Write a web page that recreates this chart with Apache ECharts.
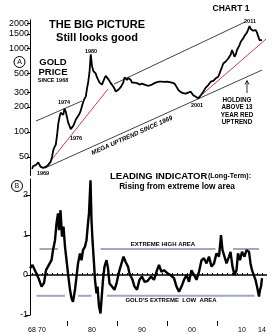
<!DOCTYPE html>
<html>
<head>
<meta charset="utf-8">
<script src="https://cdn.jsdelivr.net/npm/echarts@6/dist/echarts.min.js"></script>
<style>
html, body { margin: 0; padding: 0; background: #fff; }
#chart { width: 278px; height: 334px; }
</style>
</head>
<body>
<div id="chart"></div>
<script>
const FONT = '"Liberation Sans", Arial, sans-serif';

// gold price, quarterly from 1968
const priceStartYear = 1968;
const goldPrices = [
    36, 39, 40, 40,
    42, 43, 41, 38,
    36, 37, 37, 38,
    39, 40, 42, 44,
    50, 60, 66, 70,
    90, 125, 150, 170,
    172, 160, 190, 175,
    150, 128, 118, 108,
    105, 118, 128, 140,
    148, 155, 165, 180,
    205, 230, 250, 265,
    330, 400, 520, 850,
    620, 540, 560, 500,
    450, 420, 390, 400,
    370, 390, 440, 470,
    480, 430, 410, 385,
    370, 350, 330, 305,
    300, 320, 335, 345,
    350, 390, 450, 440,
    420, 445, 455, 420,
    390, 370, 390, 400,
    385, 375, 370, 365,
    380, 360, 370, 360,
    360, 355, 360, 365,
    370, 380, 385, 390,
    395, 400, 400, 398,
    400, 402, 398, 400,
    400, 398, 395, 392,
    390, 385, 380, 360,
    340, 320, 318, 300,
    295, 292, 290, 288,
    292, 296, 300, 304,
    290, 275, 268, 264,
    258, 253, 262, 275,
    290, 304, 320, 340,
    355, 365, 385, 400,
    415, 410, 430, 440,
    450, 459, 500, 552,
    600, 663, 640, 700,
    730, 760, 797, 850,
    959, 880, 797, 850,
    960, 1004, 1100, 1208,
    1250, 1330, 1420, 1480,
    1560, 1700, 1860, 1720,
    1670, 1640, 1700, 1667,
    1550, 1400, 1265, 1250,
    1265,
];
const priceTicks = [50, 100, 200, 300, 500, 1000, 1500, 2000];

// trend lines [year, price]
const trend1974 = [[1968.8, 135], [1978.0, 235]];
const redUptrend1969 = [[1970.6, 36.9], [1983.2, 327]];
const megaUptrend = [[1970.6, 36.9], [2014.0, 552]];
const upperChannel = [[1984.4, 375], [2010.6, 2079]];
const redUptrend2001 = [[2001.2, 255], [2014.8, 1300]];

// leading indicator
const indicatorYears = [
    1967.6, 1968.1, 1968.6, 1969.3, 1969.9, 1970.4, 1970.8, 1971.2, 1971.9, 1972.2,
    1972.6, 1972.9, 1973.2, 1973.4, 1973.7, 1974.0, 1974.3, 1974.6, 1974.9, 1975.2,
    1975.6, 1975.9, 1976.2, 1976.6, 1976.9, 1977.2, 1977.6, 1977.9, 1978.2, 1978.6,
    1978.9, 1979.2, 1979.4, 1979.7, 1979.9, 1980.1, 1980.4, 1980.6, 1980.9, 1981.1,
    1981.4, 1981.7, 1981.9, 1982.2, 1982.5, 1982.9, 1983.2, 1983.5, 1984.0, 1984.5,
    1984.9, 1985.2, 1985.5, 1985.9, 1986.3, 1986.7, 1987.2, 1987.5, 1988.1, 1988.5,
    1989.0, 1989.5, 1990.0, 1990.5, 1991.1, 1991.8, 1992.4, 1993.0, 1993.4, 1993.9,
    1994.4, 1995.1, 1995.7, 1996.4, 1996.9, 1997.4, 1997.9, 1998.4, 1998.9, 1999.4,
    1999.9, 2000.4, 2000.9, 2001.4, 2001.9, 2002.4, 2002.9, 2003.4, 2003.9, 2004.4,
    2004.9, 2005.4, 2005.8, 2006.1, 2006.5, 2006.9, 2007.4, 2007.7, 2008.1, 2008.5,
    2008.9, 2009.2, 2009.6, 2010.0, 2010.5, 2010.9, 2011.4, 2011.7, 2012.0, 2012.4,
    2012.7, 2013.0, 2013.4, 2013.6, 2013.8, 2014.0,
];
const indicatorValues = [
    0.17, 0.25, 0.11, -0.08, -0.29, -0.2, 0.12, 0.17, 0.37, 0.62,
    0.87, 1.29, 1.54, 1.12, 1.62, 0.96, 1.21, 0.71, 0.37, 0.04,
    -0.37, -0.58, -0.67, -0.37, -0.04, 0.29, 0.54, 0.37, 0.62, 0.71,
    0.87, 1.29, 1.54, 2.37, 1.37, 0.87, 0.29, -0.12, -0.46, -0.29,
    -0.79, -0.96, -0.62, -0.12, 0.21, 0.37, 0.17, -0.21, -0.29, -0.37,
    -0.21, -0.04, 0.12, 0.29, 0.46, 0.33, 0.21, 0.04, -0.12, -0.29,
    -0.37, -0.12, -0.04, -0.17, -0.15, -0.04, -0.12, 0.12, 0.25, 0.08,
    0.12, 0.04, 0.0, -0.08, -0.29, -0.42, -0.29, -0.12, 0.0, -0.17,
    0.12, 0.0, -0.12, 0.08, 0.37, 0.42, 0.29, 0.46, 0.21, 0.29,
    0.54, 0.46, 1.0, 0.62, 0.46, 0.29, 0.46, 0.58, 0.21, 0.0,
    0.12, 0.54, 0.37, 0.58, 0.46, 0.62, 0.58, 0.29, 0.12, 0.08,
    -0.12, -0.29, -0.54, -0.37, -0.29, -0.08,
];
const indicatorTicks = [-1, 0, 1, 2];

const highBand = 0.65;
const highSegments = [[1969.5, 1973.2], [1981.7, 2004.7], [2008.2, 2013.4]];
const lowBand = -0.52;
const lowSegments = [[1968.9, 1974.6], [1977.2, 1979.9], [1983.0, 2012.5]];

const yearLabels = [1968, 1970, 1980, 1990, 2000, 2010, 2014];
const fiveYearTicks = [1975, 1985, 1995, 2005];
const yearTicks = [];
for (let y = 1968; y <= 2014; y++) yearTicks.push(y);

const X_MIN = 1967.6;
const X_MAX = 2015;

function txt(x, y, text, size, extra) {
    return {
        type: 'text',
        x: x,
        y: y,
        z: 100,
        style: Object.assign({
            text: text,
            fill: '#000',
            font: 'bold ' + size + 'px ' + FONT,
            textAlign: 'center',
            textVerticalAlign: 'middle',
        }, extra || {}),
    };
}

function trendSeries(points, color) {
    return {
        type: 'line',
        xAxisIndex: 0,
        yAxisIndex: 0,
        data: points,
        symbol: 'none',
        silent: true,
        lineStyle: {color: color, width: 1},
        z: 1,
    };
}

function bandSeries(segments, value) {
    return segments.map(seg => ({
        type: 'line',
        xAxisIndex: 1,
        yAxisIndex: 1,
        data: seg.map(yr => [yr, value]),
        symbol: 'none',
        silent: true,
        lineStyle: {color: '#a2a6bf', width: 2},
        z: 1,
    }));
}

const chart = echarts.init(document.getElementById('chart'));
chart.setOption({
    animation: false,
    backgroundColor: '#fff',
    textStyle: {fontFamily: FONT},
    grid: [
        {left: 30, top: 20, width: 237, height: 155.5},
        {left: 30, top: 179, width: 237, height: 136},
    ],
    xAxis: [
        {
            gridIndex: 0,
            type: 'value',
            min: X_MIN,
            max: X_MAX,
            show: false,
        },
        {
            gridIndex: 1,
            type: 'value',
            min: X_MIN,
            max: X_MAX,
            position: 'bottom',
            offset: 11,
            axisLine: {show: false},
            axisTick: {
                show: true,
                inside: true,
                length: 2,
                customValues: yearTicks,
                lineStyle: {color: '#000', width: 1},
            },
            axisLabel: {
                customValues: yearLabels,
                margin: 1,
                fontSize: 7,
                color: '#000',
                formatter: v => String(Math.round(v)).slice(2),
            },
            splitLine: {show: false},
        },
        {
            gridIndex: 1,
            type: 'value',
            min: X_MIN,
            max: X_MAX,
            position: 'bottom',
            offset: 11,
            axisLine: {show: false},
            axisTick: {
                show: true,
                inside: true,
                length: 5,
                customValues: fiveYearTicks,
                lineStyle: {color: '#000', width: 1},
            },
            axisLabel: {show: false},
            splitLine: {show: false},
        },
    ],
    yAxis: [
        {
            gridIndex: 0,
            type: 'log',
            logBase: 10,
            min: 30,
            max: 2200,
            axisLine: {show: true, lineStyle: {color: '#000', width: 1}},
            axisTick: {
                show: true,
                length: 3,
                customValues: priceTicks,
                lineStyle: {color: '#000'},
            },
            axisLabel: {
                customValues: priceTicks,
                margin: 1,
                fontSize: 9,
                color: '#000',
                formatter: v => String(Math.round(v)),
            },
            splitLine: {show: false},
        },
        {
            gridIndex: 1,
            type: 'value',
            min: -1,
            max: 2.4,
            axisLine: {show: true, lineStyle: {color: '#000', width: 1}},
            axisTick: {
                show: true,
                length: 4,
                customValues: indicatorTicks,
                lineStyle: {color: '#000'},
            },
            axisLabel: {
                customValues: indicatorTicks,
                margin: 2,
                fontSize: 9,
                color: '#000',
            },
            splitLine: {show: false},
        },
    ],
    series: [
        trendSeries(trend1974, '#444'),
        trendSeries(upperChannel, '#444'),
        trendSeries(megaUptrend, '#444'),
        trendSeries(redUptrend1969, '#d2404a'),
        trendSeries(redUptrend2001, '#d2404a'),
        {
            name: 'gold',
            type: 'line',
            xAxisIndex: 0,
            yAxisIndex: 0,
            data: goldPrices.map((p, i) => [priceStartYear + i / 4, p]),
            symbol: 'none',
            lineStyle: {color: '#000', width: 1.8},
            z: 3,
        },
        ...bandSeries(highSegments, highBand),
        ...bandSeries(lowSegments, lowBand),
        {
            name: 'indicator',
            type: 'line',
            xAxisIndex: 1,
            yAxisIndex: 1,
            data: indicatorYears.map((yr, i) => [yr, indicatorValues[i]]),
            symbol: 'none',
            lineStyle: {color: '#000', width: 2.4},
            z: 3,
            markLine: {
                silent: true,
                symbol: 'none',
                label: {show: false},
                lineStyle: {color: '#000', width: 1.5, type: 'solid'},
                data: [{yAxis: 0}],
            },
        },
    ],
    graphic: [
        txt(97, 25, 'THE BIG PICTURE', 11),
        txt(97, 38, 'Still looks good', 11),
        txt(231, 9, 'CHART 1', 8.5),
        txt(53, 62, 'GOLD', 9.5),
        txt(53, 72, 'PRICE', 9.5),
        txt(53, 80, 'SINCE 1968', 5.5),
        {
            type: 'circle',
            shape: {cx: 19.5, cy: 62, r: 5.5},
            style: {fill: 'none', stroke: '#000', lineWidth: 1},
        },
        txt(19.5, 62.5, 'A', 7, {font: '7px ' + FONT}),
        {
            type: 'circle',
            shape: {cx: 17, cy: 186, r: 5.5},
            style: {fill: '#fff', stroke: '#000', lineWidth: 1},
            z: 90,
        },
        txt(17, 186.5, 'B', 6.5, {font: '6.5px ' + FONT}),
        txt(91, 51, '1980', 5.5),
        txt(64, 102, '1974', 5.5),
        txt(76, 138, '1976', 5.5),
        txt(43, 173, '1969', 5.5),
        txt(197, 105, '2001', 5.5),
        txt(250, 21, '2011', 5.5),
        {
            type: 'text',
            x: 132,
            y: 135.5,
            rotation: 24 * Math.PI / 180,
            z: 100,
            style: {
                text: 'MEGA UPTREND SINCE 1969',
                fill: '#000',
                font: 'italic bold 6.3px ' + FONT,
                textAlign: 'center',
                textVerticalAlign: 'middle',
            },
        },
        txt(237, 100, 'HOLDING', 6.3),
        txt(237, 107.5, 'ABOVE 13', 6.3),
        txt(237, 115, 'YEAR RED', 6.3),
        txt(237, 122.5, 'UPTREND', 6.3),
        {
            type: 'polyline',
            shape: {points: [[247, 93], [247, 81]]},
            style: {stroke: '#000', lineWidth: 0.8, fill: null},
        },
        {
            type: 'polyline',
            shape: {points: [[245, 84.5], [247, 80.5], [249, 84.5]]},
            style: {stroke: '#000', lineWidth: 0.8, fill: null},
        },
        txt(110, 176, 'LEADING INDICATOR', 9.5, {textAlign: 'left'}),
        txt(251, 176.5, '(Long-Term):', 7, {textAlign: 'right'}),
        txt(177, 187, 'Rising from extreme low area', 8.3),
        txt(163, 244.5, 'EXTREME HIGH AREA', 6),
        txt(171, 300, "GOLD'S EXTREME  LOW  AREA", 6),
    ],
});
</script>
</body>
</html>
